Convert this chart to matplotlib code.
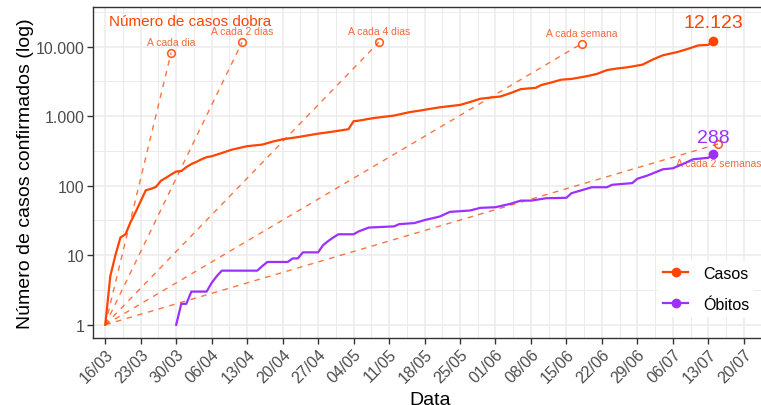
import matplotlib
matplotlib.use('Agg')
import matplotlib.pyplot as plt
from matplotlib.lines import Line2D
import pandas as pd

plt.rcParams['font.family'] = ['Liberation Sans', 'DejaVu Sans']

# ---------------- data ----------------
cases_dates = ['03-16', '03-17', '03-18', '03-19', '03-20', '03-21', '03-22', '03-23',
               '03-24', '03-25', '03-26', '03-27', '03-28', '03-29', '03-30', '03-31',
               '04-01', '04-02', '04-03', '04-04', '04-05', '04-06', '04-08', '04-10',
               '04-13', '04-16', '04-18', '04-20', '04-23', '04-27', '04-30', '05-03',
               '05-04', '05-05', '05-08', '05-12', '05-15', '05-17', '05-19', '05-21',
               '05-25', '05-27', '05-29', '06-02', '06-04', '06-06', '06-09', '06-10',
               '06-12', '06-14', '06-16', '06-19', '06-21', '06-23', '06-25', '06-27',
               '06-30', '07-02', '07-04', '07-07', '07-09', '07-11', '07-13', '07-14']
cases_values = [1, 5, 10, 18, 20, 30, 42, 60,
                86, 90, 96, 118, 130, 145, 160, 162,
                185, 205, 220, 240, 257, 265, 295, 330,
                370, 390, 430, 465, 500, 560, 600, 650,
                846, 861, 940, 1020, 1140, 1200, 1270, 1340,
                1450, 1600, 1780, 1920, 2150, 2450, 2560, 2800,
                3050, 3350, 3430, 3750, 4050, 4600, 4850, 5040,
                5500, 6500, 7500, 8400, 9300, 10400, 10600, 12123]

deaths_dates = ['03-30', '03-31', '04-01', '04-02', '04-05', '04-06', '04-07', '04-08',
                '04-15', '04-16', '04-17', '04-21', '04-22', '04-23', '04-24', '04-27',
                '04-28', '04-29', '04-30', '05-01', '05-04', '05-05', '05-07', '05-12',
                '05-13', '05-16', '05-18', '05-21', '05-23', '05-27', '05-29', '06-01',
                '06-04', '06-06', '06-08', '06-11', '06-15', '06-16', '06-18', '06-20',
                '06-23', '06-24', '06-28', '06-29', '07-01', '07-04', '07-06', '07-08',
                '07-10', '07-12', '07-13', '07-14']
deaths_values = [1, 2, 2, 3, 3, 4, 5, 6,
                 6, 7, 8, 8, 9, 9, 11, 11,
                 14, 16, 18, 20, 20, 22, 25, 26,
                 28, 29, 32, 36, 42, 44, 48, 49,
                 55, 61, 61, 66, 67, 78, 86, 95,
                 95, 103, 109, 126, 140, 172, 178, 205,
                 240, 248, 252, 288]

doubling_labels = ['A cada dia', 'A cada 2 dias', 'A cada 4 dias', 'A cada semana', 'A cada 2 semanas']
doubling_end_dates = ['03-29', '04-12', '05-09', '06-18', '07-15']
doubling_end_values = [8192, 11585, 11585, 11030, 400]
doubling_label_below = [False, False, False, False, True]
origin_date = '03-16'
origin_value = 1

series_names = ['Casos', 'Óbitos']
last_labels = ['12.123', '288']

y_ticks = [1, 10, 100, 1000, 10000]
y_ticklabels = ['1', '10', '100', '1.000', '10.000']
x_tick_start, x_tick_end = '2020-03-16', '2020-07-20'

# ---------------- styling ----------------
C_CASES = '#FF4500'
C_DEATHS = '#9B30FF'
C_DASH = '#FF4500'
GRID = '#EBEBEB'
DARK = '#333333'


def to_dt(lst):
    return pd.to_datetime(['2020-' + s for s in lst])


cd = to_dt(cases_dates)
dd = to_dt(deaths_dates)
ded = to_dt(doubling_end_dates)
od = pd.Timestamp('2020-' + origin_date)

fig = plt.figure(figsize=(7.61, 4.06), dpi=100)
ax = fig.add_axes([93 / 761, 67 / 406, (767 - 93) / 761, (398 - 67) / 406])

ax.set_yscale('log')
YLIM = (0.645, 37150)
XLIM = (pd.Timestamp('2020-03-13 14:00'), pd.Timestamp('2020-07-24 14:00'))

# ticks and grid
ax.set_yticks(y_ticks)
ax.set_yticklabels(y_ticklabels)
minor_y = [10 ** (k + 0.5) for k in range(0, 5)]
ax.set_yticks(minor_y, minor=True)
ax.yaxis.set_minor_formatter(matplotlib.ticker.NullFormatter())

xt = pd.date_range(x_tick_start, x_tick_end, freq='7D')
ax.set_xticks(xt)
ax.set_xticklabels([d.strftime('%d/%m') for d in xt], rotation=45, ha='right',
                   va='top', rotation_mode='anchor')
xminor = pd.date_range(pd.Timestamp(x_tick_start) + pd.Timedelta(hours=84),
                       pd.Timestamp(x_tick_end) + pd.Timedelta(hours=84), freq='7D')
ax.set_xticks(xminor, minor=True)

ax.grid(which='major', color=GRID, lw=1.1, zorder=0)
ax.grid(which='minor', color=GRID, lw=0.7, zorder=0)
ax.set_axisbelow(True)
ax.tick_params(which='minor', length=0)
ax.tick_params(which='major', length=4, width=1, color=DARK, labelcolor='#4D4D4D',
               labelsize=11.5, pad=2)
for s in ax.spines.values():
    s.set_color(DARK)
    s.set_linewidth(1.0)

# doubling reference lines
for lab, ed, ev, below in zip(doubling_labels, ded, doubling_end_values, doubling_label_below):
    ax.plot([od, ed], [origin_value, ev], color=C_DASH, alpha=0.75, lw=1.0,
            ls=(0, (4, 4)), zorder=2)
    ax.plot([ed], [ev], 'o', ms=5.5, mfc='none', mec=C_DASH, mew=1.2, alpha=0.85, zorder=3)
    off = -13.7 if below else 8.0
    ax.annotate(lab, (ed, ev), xytext=(0, off), textcoords='offset points', ha='center',
                va='center', fontsize=7.5, color='#F26A3A', zorder=4)

ax.text(pd.Timestamp('2020-03-16 19:00'), 20400, 'Número de casos dobra', color=C_CASES,
        fontsize=11, ha='left', va='baseline', zorder=5)

# data lines
ax.plot(cd, cases_values, color=C_CASES, lw=1.6, zorder=5, solid_joinstyle='round')
ax.plot(dd, deaths_values, color=C_DEATHS, lw=1.6, zorder=5, solid_joinstyle='round')
ax.plot([cd[-1]], [cases_values[-1]], 'o', color=C_CASES, ms=6, zorder=6)
ax.plot([dd[-1]], [deaths_values[-1]], 'o', color=C_DEATHS, ms=6, zorder=6)
ax.annotate(last_labels[0], (cd[-1], cases_values[-1]), xytext=(0, 9.6),
            textcoords='offset points', ha='center', va='baseline', fontsize=14,
            color=C_CASES, zorder=7)
ax.annotate(last_labels[1], (dd[-1], deaths_values[-1]), xytext=(0, 8.5),
            textcoords='offset points', ha='center', va='baseline', fontsize=14,
            color=C_DEATHS, zorder=7)

ax.set_ylim(*YLIM)
ax.set_xlim(*XLIM)

# legend
handles = [Line2D([], [], color=C_CASES, lw=1.6, marker='o', ms=6),
           Line2D([], [], color=C_DEATHS, lw=1.6, marker='o', ms=6)]
leg = ax.legend(handles, series_names, loc='center', bbox_to_anchor=(706 / 761, 1 - 290 / 406),
                bbox_transform=fig.transFigure, frameon=True, facecolor='white',
                edgecolor='none', framealpha=1, fontsize=11.5, handlelength=1.6,
                labelspacing=1.0, handletextpad=0.9, borderpad=0.3)
leg.set_zorder(10)

# axis titles
fig.text(26 / 761, 1 - 174 / 406, 'Número de casos confirmados (log)', rotation=90,
         ha='center', va='center', fontsize=14, color='black')
fig.text(430 / 761, 1 - 392 / 406, 'Data', ha='center', va='top', fontsize=14, color='black')

fig.savefig('out.png', dpi=100)
